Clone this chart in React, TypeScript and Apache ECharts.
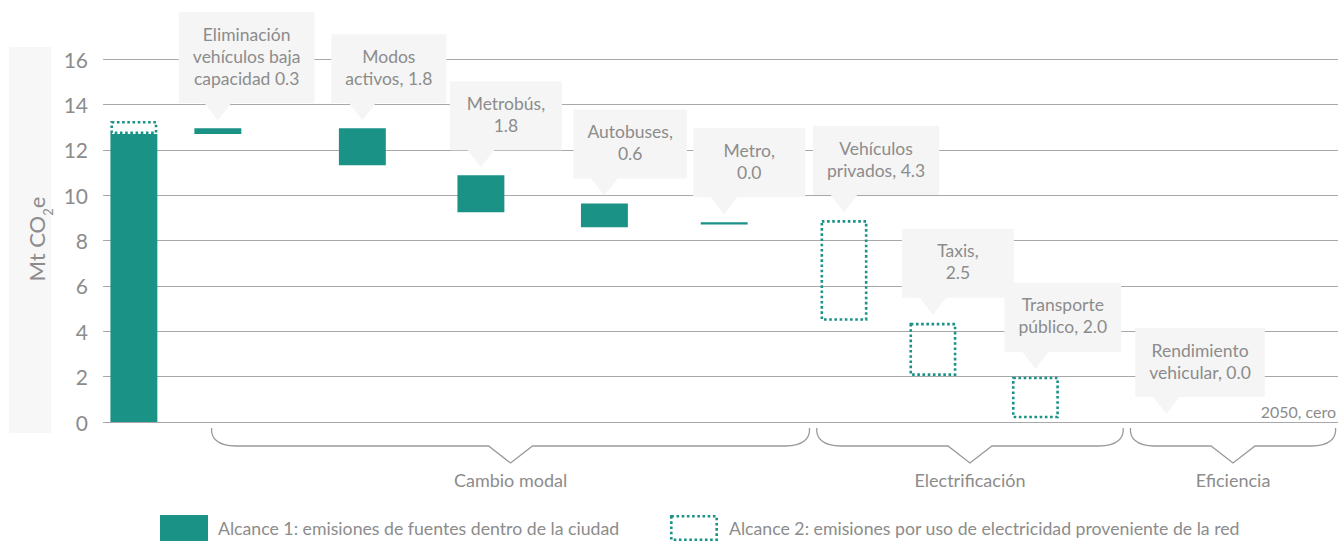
import React, { useEffect, useRef } from "react";
import * as echarts from "echarts";

// ---------- data ----------
const categories = [
  "Base",
  "Eliminación vehículos baja capacidad",
  "Modos activos",
  "Metrobús",
  "Autobuses",
  "Metro",
  "Vehículos privados",
  "Taxis",
  "Transporte público",
  "Rendimiento vehicular",
  "2050, cero",
];
const calloutLabels = [
  "",
  "Eliminación\nvehículos baja\ncapacidad 0.3",
  "Modos\nactivos, 1.8",
  "Metrobús,\n1.8",
  "Autobuses,\n0.6",
  "Metro,\n0.0",
  "Vehículos\nprivados, 4.3",
  "Taxis,\n2.5",
  "Transporte\npúblico, 2.0",
  "Rendimiento\nvehicular, 0.0",
  "",
];
// position of each category along the (0–100) horizontal value axis
const xValues = [2.5, 9.3, 21, 30.6, 40.6, 50.3, 60, 67.2, 75.5, 86.1, 100];
// Alcance 1 (solid) ranges
const scope1Low = [0, 12.69, 11.32, 9.24, 8.58, 8.71, null, null, null, 0, null];
const scope1High = [12.69, 12.95, 12.95, 10.88, 9.63, 8.8, null, null, null, 0, null];
// Alcance 2 (dotted) ranges
const scope2Low = [12.69, null, null, null, null, null, 4.46, 2.03, 0.16, null, null];
const scope2High = [13.27, null, null, null, null, null, 8.9, 4.37, 2.0, null, null];
// groups (braces below axis)
const groupNames = ["Cambio modal", "Electrificación", "Eficiencia"];
const groupStart = [8.8, 57.8, 83.2];
const groupEnd = [57.2, 82.6, 99.8];
const legendLabels = [
  "Alcance 1: emisiones de fuentes dentro de la ciudad",
  "Alcance 2: emisiones por uso de electricidad proveniente de la red",
];
const yMin = 0;
const yMax = 16;
const yInterval = 2;

// ---------- style ----------
const TEAL = "#1b9286";
const TEXT = "#8c8c8c";
const FONT = "Lato, 'Noto Sans', sans-serif";
const BOX = "#f5f5f5";
const BAR_W = 3.8; // axis units
const CALLOUT_FS = 17.5;

let measureCtx: CanvasRenderingContext2D | null = null;
function measure(text: string, size: number): number {
  if (!measureCtx) measureCtx = document.createElement("canvas").getContext("2d");
  if (!measureCtx) return text.length * size * 0.5;
  measureCtx.font = `${size}px Lato`;
  return measureCtx.measureText(text).width;
}

function renderBar(params: any, api: any) {
  const i = params.dataIndex;
  const x = xValues[i];
  const [cx, y0] = api.coord([x, 0]);
  const w = api.size([BAR_W, 0])[0];
  const children: any[] = [];
  const s1l = scope1Low[i], s1h = scope1High[i];
  const s2l = scope2Low[i], s2h = scope2High[i];
  if (s1l != null && s1h != null && s1h > s1l) {
    const yt = api.coord([x, s1h])[1];
    const yb = api.coord([x, s1l])[1];
    children.push({
      type: "rect",
      shape: { x: cx - w / 2, y: yt, width: w, height: Math.max(yb - yt, 2) },
      style: { fill: TEAL },
    });
  }
  if (s2l != null && s2h != null && s2h > s2l) {
    const yt = api.coord([x, s2h])[1];
    const yb = api.coord([x, s2l])[1];
    const lw = 2.6;
    children.push({
      type: "rect",
      shape: { x: cx - w / 2 + lw / 2, y: yt + lw / 2, width: w - lw, height: yb - yt - lw },
      style: { fill: "none", stroke: TEAL, lineWidth: lw, lineDash: [2.6, 2.6] },
    });
  }
  const label = calloutLabels[i];
  if (label) {
    const top = Math.max(s1h ?? 0, s2h ?? 0);
    const tipY = api.coord([x, top])[1] - 8;
    const triH = 17;
    const lines = label.split("\n");
    const lh = 22;
    const tw = Math.max(...lines.map((l) => measure(l, CALLOUT_FS)));
    const bw = Math.max(112, tw + 28);
    const bh = lines.length * lh + 25;
    const bottom = tipY - triH;
    const left = cx - 31 - (bw > 132 ? 8 : 0);
    children.push({
      type: "polygon",
      shape: { points: [[cx - 14, bottom - 1], [cx + 14, bottom - 1], [cx, tipY]] },
      style: { fill: BOX },
    });
    children.push({
      type: "rect",
      shape: { x: left, y: bottom - bh, width: bw, height: bh },
      style: { fill: BOX },
    });
    children.push({
      type: "text",
      style: {
        text: label,
        x: left + bw / 2,
        y: bottom - bh + 11,
        align: "center",
        verticalAlign: "top",
        lineHeight: lh,
        fontSize: CALLOUT_FS,
        fontFamily: FONT,
        fill: TEXT,
      },
    });
  }
  if (i === categories.length - 1) {
    children.push({
      type: "text",
      style: {
        text: categories[i],
        x: cx - 2,
        y: y0 - 11,
        align: "right",
        verticalAlign: "middle",
        fontSize: 16,
        fontFamily: FONT,
        fill: TEXT,
      },
    });
  }
  return { type: "group", children };
}

function renderBrace(params: any, api: any) {
  const i = params.dataIndex;
  const x0 = api.coord([groupStart[i], 0])[0];
  const x1 = api.coord([groupEnd[i], 0])[0];
  const base = api.coord([groupStart[i], 0])[1];
  const xm = (x0 + x1) / 2;
  const top = base + 6;
  const ly = base + 24;
  const tip = base + 41;
  const d =
    `M${x0},${top} C${x0 - 1},${ly - 8} ${x0 + 6},${ly} ${x0 + 24},${ly} ` +
    `L${xm - 22},${ly} L${xm},${tip} L${xm + 22},${ly} L${x1 - 24},${ly} ` +
    `C${x1 - 6},${ly} ${x1 + 1},${ly - 8} ${x1},${top}`;
  return {
    type: "group",
    children: [
      {
        type: "path",
        shape: { pathData: d },
        style: { fill: "none", stroke: "#9a9a9a", lineWidth: 1.3 },
      },
      {
        type: "text",
        style: {
          text: groupNames[i],
          x: xm,
          y: base + 58,
          align: "center",
          verticalAlign: "middle",
          fontSize: 18,
          fontFamily: FONT,
          fill: TEXT,
        },
      },
    ],
  };
}

export default function App() {
  const ref = useRef<HTMLDivElement>(null);
  useEffect(() => {
    if (!ref.current) return;
    const chart = echarts.init(ref.current, null, { renderer: "svg" });
    chart.setOption({
      animation: false,
      backgroundColor: "#ffffff",
      grid: { left: 103, right: 4, top: 59, bottom: 119 },
      xAxis: { type: "value", min: 0, max: 100, show: false },
      yAxis: {
        type: "value",
        min: yMin,
        max: yMax,
        interval: yInterval,
        axisLine: { show: false },
        axisTick: { show: false },
        axisLabel: { margin: 15, fontSize: 21, color: TEXT, fontFamily: FONT },
        splitLine: { lineStyle: { color: "#a8a8a8", width: 1 } },
      },
      graphic: [
        { type: "rect", shape: { x: 9, y: 47, width: 42, height: 386 }, style: { fill: "#f7f7f7" }, z: -10 },
        {
          type: "text",
          x: 36,
          y: 239,
          rotation: Math.PI / 2,
          style: {
            text: "{a|Mt CO}{s|2}{a|e}",
            align: "center",
            verticalAlign: "middle",
            rich: {
              a: { fontSize: 22, lineHeight: 36, fill: TEXT, fontFamily: FONT, verticalAlign: "middle" },
              s: { fontSize: 13, lineHeight: 13, fill: TEXT, fontFamily: FONT, verticalAlign: "bottom" },
            },
          },
        },
        { type: "rect", shape: { x: 160, y: 515, width: 48, height: 26 }, style: { fill: TEAL } },
        {
          type: "text",
          x: 218,
          y: 528,
          style: { text: legendLabels[0], fontSize: 17.7, fontFamily: FONT, fill: TEXT, verticalAlign: "middle" },
        },
        {
          type: "rect",
          shape: { x: 671.3, y: 516.3, width: 45.4, height: 23.4 },
          style: { fill: "none", stroke: TEAL, lineWidth: 2.6, lineDash: [2.6, 2.6] },
        },
        {
          type: "text",
          x: 729,
          y: 528,
          style: { text: legendLabels[1], fontSize: 17.7, fontFamily: FONT, fill: TEXT, verticalAlign: "middle" },
        },
      ],
      series: [
        {
          type: "custom",
          name: "barras",
          silent: true,
          clip: false,
          data: categories.map((c, i) => [xValues[i], 0]),
          renderItem: renderBar,
        },
        {
          type: "custom",
          name: "grupos",
          silent: true,
          clip: false,
          data: groupNames.map((g, i) => [groupStart[i], 0]),
          renderItem: renderBrace,
        },
      ],
    });
    return () => chart.dispose();
  }, []);
  return (
    <div
      ref={ref}
      style={{ position: "fixed", left: 0, top: 0, width: 1342, height: 541 }}
    />
  );
}
